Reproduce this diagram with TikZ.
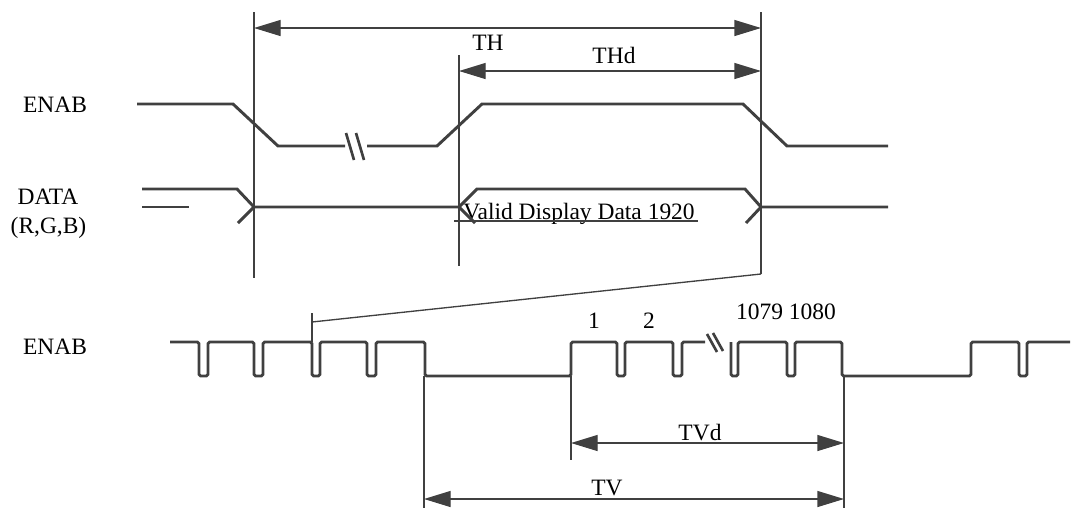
\documentclass[tikz,border=0pt]{standalone}
\usepackage{fontspec}
\setmainfont{Liberation Serif}
\usetikzlibrary{arrows.meta}
\definecolor{ink}{HTML}{404040}
\begin{document}
\begin{tikzpicture}[x=0.75pt,y=-0.75pt,
  wave/.style={draw=ink,line width=2.2pt,line join=miter},
  pulse/.style={draw=ink,line width=2.2pt,rounded corners=1.2pt},
  thinline/.style={draw=ink,line width=1pt},
  breakmark/.style={draw=ink,line width=2pt},
  dim/.style={draw=ink,line width=1pt,{Triangle[length=20pt,width=12pt]}-{Triangle[length=20pt,width=12pt]}},
  lbl/.style={font=\fontsize{17.6}{21}\selectfont,text=black,inner sep=0pt,anchor=base}]
\useasboundingbox (0,0) rectangle (1072,508);

% ---- labels ----
\node[lbl] (enabA) at (55,112) {ENAB};
\node[lbl] (data) at (48,204) {DATA};
\node[lbl] (rgb) at (48.5,233) {(R,G,B)};
\node[lbl] (enabB) at (55,354) {ENAB};
\node[lbl] (th) at (488,50) {TH};
\node[lbl] (thd) at (614,63) {THd};
\node[lbl] (valid) at (579,219) {Valid Display Data 1920};
\node[lbl] (n1) at (594,328) {1};
\node[lbl] (n2) at (649,328) {2};
\node[lbl] (n1079) at (786,319) {1079 1080};
\node[lbl] (tvd) at (700,440) {TVd};
\node[lbl] (tv) at (607,495) {TV};

% ---- guide coordinates ----
\coordinate (vA1) at (254,12);  \coordinate (vA2) at (254,278);
\coordinate (vB1) at (459,55);  \coordinate (vB2) at (459,266);
\coordinate (vC1) at (761,12);  \coordinate (vC2) at (761,274);
\coordinate (thL) at (254,28);  \coordinate (thR) at (761,28);
\coordinate (thdL) at (459,71); \coordinate (thdR) at (761,71);
\coordinate (zoomEnd) at (312,322); \coordinate (zoomTop) at (312,313); \coordinate (zoomBot) at (312,342);
\coordinate (vD1) at (424,376); \coordinate (vD2) at (424,508);
\coordinate (vE1) at (571,376); \coordinate (vE2) at (571,460);
\coordinate (vF1) at (844,376); \coordinate (vF2) at (844,508);
\coordinate (tvdL) at (571,443); \coordinate (tvdR) at (844,443);
\coordinate (tvL) at (424,499);  \coordinate (tvR) at (844,499);
\coordinate (ulL) at (454,221);  \coordinate (ulR) at (698,221);
\coordinate (dtL) at (142,207);  \coordinate (dtR) at (189,207);

% ---- vertical guides and dimension arrows ----
\draw[thinline] (vA1) -- (vA2);
\draw[thinline] (vB1) -- (vB2);
\draw[thinline] (vC1) -- (vC2);
\draw[dim] (thL) -- (thR);
\draw[dim] (thdL) -- (thdR);
\draw[thinline] (vC2) -- (zoomEnd);
\draw[thinline] (zoomTop) -- (zoomBot);
\draw[thinline] (vD1) -- (vD2);
\draw[thinline] (vE1) -- (vE2);
\draw[thinline] (vF1) -- (vF2);
\draw[dim] (tvdL) -- (tvdR);
\draw[dim] (tvL) -- (tvR);
\draw[thinline] (ulL) -- (ulR);
\draw[thinline] (dtL) -- (dtR);

% ---- top ENAB ----
\draw[wave] (137,104) -- (233,104) -- (278,146) -- (345,146);
\draw[wave] (367,146) -- (437,146) -- (482,104) -- (743,104) -- (787,146) -- (888,146);
\draw[breakmark] (346,133) -- (354,160);
\draw[breakmark] (356,133) -- (364,160);

% ---- DATA ----
\draw[wave] (142,189) -- (237,189) -- (254,207) -- (459,207) -- (477,189) -- (745,189) -- (761,207) -- (888,207);
\draw[wave] (238,223) -- (254,207);
\draw[wave] (459,207) -- (475,223);
\draw[wave] (746,223) -- (761,207);

% ---- bottom ENAB ----
\draw[pulse] (170,342) -- (199,342) -- (199,376) -- (208,376) -- (208,342)
  -- (254,342) -- (254,376) -- (263,376) -- (263,342)
  -- (312,342) -- (312,376) -- (320,376) -- (320,342)
  -- (367,342) -- (367,376) -- (376,376) -- (376,342)
  -- (425,342) -- (425,376) -- (571,376) -- (571,342)
  -- (617,342) -- (617,376) -- (625,376) -- (625,342)
  -- (673,342) -- (673,376) -- (682,376) -- (682,342) -- (705,342);
\draw[breakmark] (707,334) -- (717,352);
\draw[breakmark] (713,333) -- (723,351);
\draw[pulse] (731,342) -- (731,376) -- (738,376) -- (738,342)
  -- (787,342) -- (787,376) -- (795,376) -- (795,342)
  -- (842,342) -- (842,376) -- (971,376) -- (971,342)
  -- (1019,342) -- (1019,376) -- (1027,376) -- (1027,342) -- (1070,342);
\end{tikzpicture}
\end{document}
